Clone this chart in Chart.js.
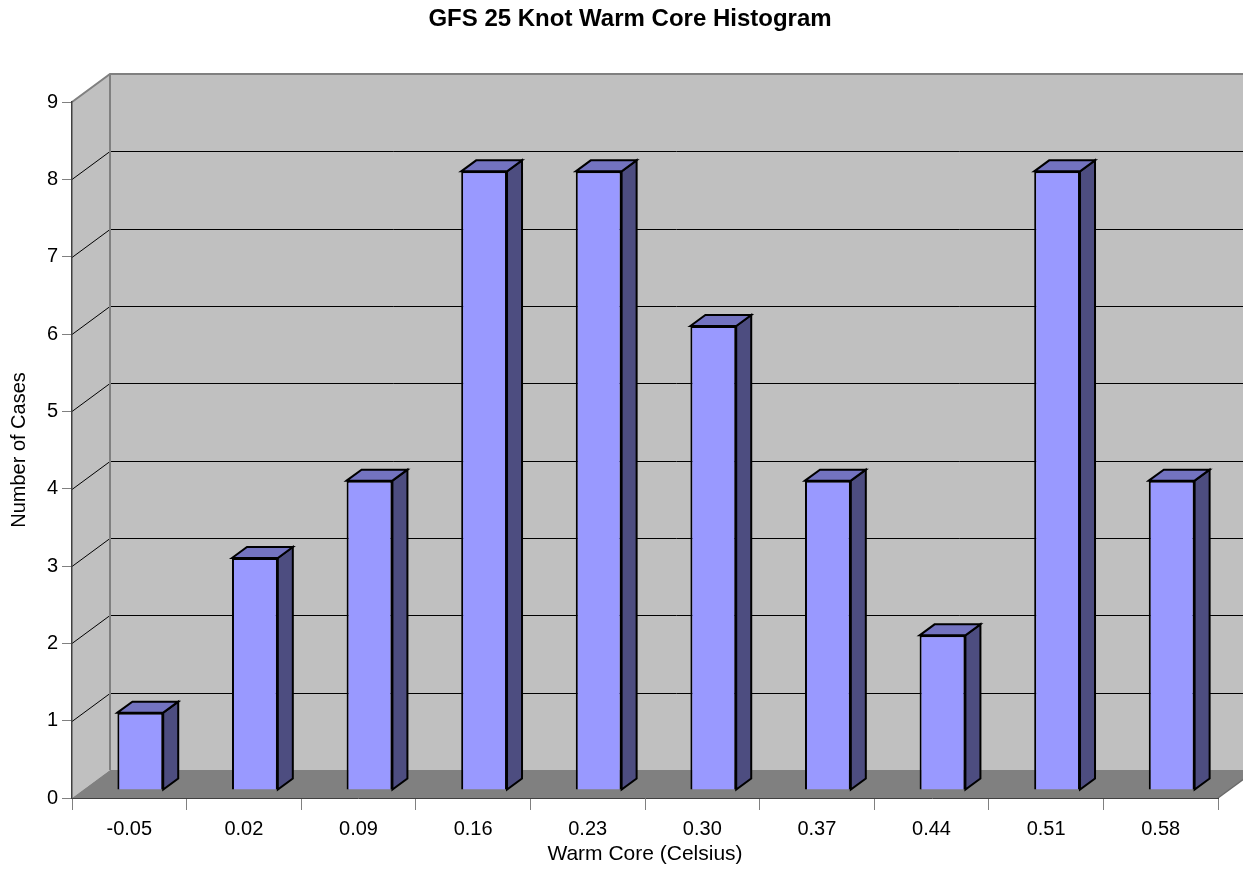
<!DOCTYPE html>
<html lang="en">
<head>
    <meta charset="UTF-8">
    <title>GFS 25 Knot Warm Core Histogram</title>
    <script src="https://cdn.jsdelivr.net/npm/chart.js"></script>
    <style>
        body { margin: 0; background: #fff; }
    </style>
</head>
<body>
    <canvas id="histChart" width="1243" height="870"></canvas>

    <script>
        // histogram bins and counts
        const bins = ['-0.05', '0.02', '0.09', '0.16', '0.23', '0.30', '0.37', '0.44', '0.51', '0.58'];
        const cases = [1, 3, 4, 8, 8, 6, 4, 2, 8, 4];
        const yMin = 0;
        const yMax = 9;
        const chartTitle = 'GFS 25 Knot Warm Core Histogram';

        const FONT = 'Arial, "Liberation Sans", sans-serif';

        // depth offsets for the fake 3d look
        const WALL = { dx: 38, dy: -28 };  // back wall
        const BAR = { dx: 11, dy: -8 };    // front face of bars
        const DEPTH = { dx: 15, dy: -11 }; // bar thickness

        const excel3d = {
            id: 'excel3d',
            beforeDraw(chart) {
                const ctx = chart.ctx;
                const a = chart.chartArea;
                const y = chart.scales.y;
                const top = y.getPixelForValue(yMax);
                const bot = y.getPixelForValue(yMin);
                const W = chart.width;

                ctx.save();
                // back wall
                ctx.fillStyle = '#C0C0C0';
                ctx.fillRect(a.left + WALL.dx, top + WALL.dy, W - a.left - WALL.dx, bot - top);
                // left wall
                ctx.beginPath();
                ctx.moveTo(a.left, top);
                ctx.lineTo(a.left + WALL.dx, top + WALL.dy);
                ctx.lineTo(a.left + WALL.dx, bot + WALL.dy);
                ctx.lineTo(a.left, bot);
                ctx.closePath();
                ctx.fill();

                // gridlines
                ctx.strokeStyle = '#000';
                ctx.lineWidth = 1;
                for (let v = yMin + 1; v < yMax; v++) {
                    const py = Math.round(y.getPixelForValue(v)) + 0.5;
                    ctx.beginPath();
                    ctx.moveTo(a.left, py);
                    ctx.lineTo(a.left + WALL.dx, py + WALL.dy);
                    ctx.lineTo(W, py + WALL.dy);
                    ctx.stroke();
                }

                // wall edges
                ctx.strokeStyle = '#808080';
                ctx.lineWidth = 2;
                ctx.beginPath();
                ctx.moveTo(a.left, top);
                ctx.lineTo(a.left + WALL.dx, top + WALL.dy);
                ctx.lineTo(W, top + WALL.dy);
                ctx.moveTo(a.left + WALL.dx, top + WALL.dy);
                ctx.lineTo(a.left + WALL.dx, bot + WALL.dy);
                ctx.stroke();

                // floor
                ctx.fillStyle = '#808080';
                ctx.beginPath();
                ctx.moveTo(a.left, bot);
                ctx.lineTo(a.left + WALL.dx, bot + WALL.dy);
                ctx.lineTo(a.right + WALL.dx, bot + WALL.dy);
                ctx.lineTo(a.right, bot);
                ctx.closePath();
                ctx.fill();
                ctx.strokeStyle = '#6a6a6a';
                ctx.lineWidth = 1.5;
                ctx.beginPath();
                ctx.moveTo(a.right, bot);
                ctx.lineTo(a.right + WALL.dx, bot + WALL.dy);
                ctx.stroke();

                // title, centred on the page rather than the plot
                ctx.fillStyle = '#000';
                ctx.font = 'bold 24px ' + FONT;
                ctx.textAlign = 'center';
                ctx.textBaseline = 'middle';
                ctx.fillText(chartTitle, 630, 19);
                ctx.restore();
            },
            beforeDatasetDraw(chart) {
                chart.ctx.save();
                chart.ctx.translate(BAR.dx, BAR.dy);
            },
            afterDatasetDraw(chart) {
                chart.ctx.restore();
            },
            afterDatasetsDraw(chart) {
                const ctx = chart.ctx;
                const meta = chart.getDatasetMeta(0);
                ctx.save();
                ctx.lineWidth = 2;
                ctx.strokeStyle = '#000';
                ctx.lineJoin = 'miter';
                meta.data.forEach(bar => {
                    const p = bar.getProps(['x', 'y', 'base', 'width'], true);
                    const xl = p.x - p.width / 2 + BAR.dx;
                    const xr = p.x + p.width / 2 + BAR.dx;
                    const yt = p.y + BAR.dy;
                    const yb = p.base + BAR.dy;
                    // side face
                    ctx.fillStyle = '#4D4D80';
                    ctx.beginPath();
                    ctx.moveTo(xr, yt);
                    ctx.lineTo(xr + DEPTH.dx, yt + DEPTH.dy);
                    ctx.lineTo(xr + DEPTH.dx, yb + DEPTH.dy);
                    ctx.lineTo(xr, yb);
                    ctx.closePath();
                    ctx.fill();
                    ctx.stroke();
                    // top face
                    ctx.fillStyle = '#7373C0';
                    ctx.beginPath();
                    ctx.moveTo(xl, yt);
                    ctx.lineTo(xl + DEPTH.dx, yt + DEPTH.dy);
                    ctx.lineTo(xr + DEPTH.dx, yt + DEPTH.dy);
                    ctx.lineTo(xr, yt);
                    ctx.closePath();
                    ctx.fill();
                    ctx.stroke();
                });
                ctx.restore();
            }
        };

        const ctx = document.getElementById('histChart').getContext('2d');
        const chart = new Chart(ctx, {
            type: 'bar',
            data: {
                labels: bins,
                datasets: [{
                    label: 'Number of Cases',
                    data: cases,
                    backgroundColor: '#9999FF',
                    borderColor: '#000',
                    borderWidth: 2,
                    barPercentage: 0.4,
                    categoryPercentage: 1,
                    clip: false
                }]
            },
            options: {
                responsive: false,
                animation: false,
                layout: { padding: { top: 102, right: 25, bottom: 0, left: 0 } },
                plugins: {
                    legend: { display: false },
                    tooltip: { enabled: false },
                    title: { display: false }
                },
                scales: {
                    x: {
                        grid: {
                            offset: true,
                            drawOnChartArea: false,
                            tickLength: 12,
                            tickColor: '#808080'
                        },
                        border: { color: '#404040', width: 1 },
                        ticks: { color: '#000', font: { family: FONT, size: 20 }, padding: 7, maxRotation: 0 },
                        title: {
                            display: true,
                            text: 'Warm Core (Celsius)',
                            color: '#000',
                            font: { family: FONT, size: 21 },
                            padding: { top: 0, bottom: 3 }
                        },
                        afterFit(scale) { scale.height = 72; }
                    },
                    y: {
                        min: yMin,
                        max: yMax,
                        grid: {
                            drawOnChartArea: false,
                            tickLength: 10,
                            tickColor: '#808080'
                        },
                        border: { color: '#404040', width: 1.5 },
                        ticks: { stepSize: 1, color: '#000', font: { family: FONT, size: 20 }, padding: 4 },
                        title: {
                            display: true,
                            text: 'Number of Cases',
                            color: '#000',
                            font: { family: FONT, size: 20 },
                            padding: { top: 7, bottom: 0 }
                        },
                        afterFit(scale) { scale.width = 72; }
                    }
                }
            },
            plugins: [excel3d]
        });
    </script>
</body>
</html>
